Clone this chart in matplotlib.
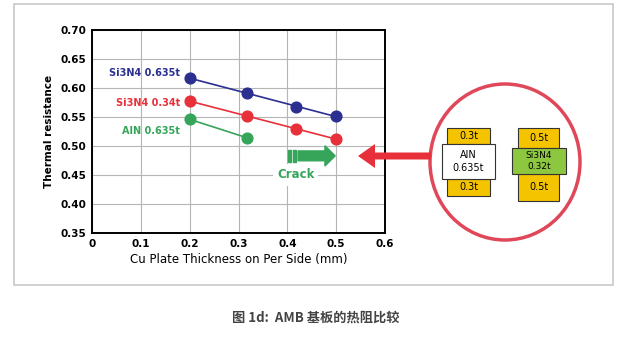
import numpy as np
import matplotlib.pyplot as plt
from matplotlib.patches import Rectangle, Ellipse, FancyArrow

plt.rcParams['font.family'] = ['DejaVu Sans', 'Noto Sans CJK SC']

# data
x_si_635 = [0.2, 0.318, 0.418, 0.5]
y_si_635 = [0.617, 0.591, 0.568, 0.551]
x_si_34 = [0.2, 0.318, 0.418, 0.5]
y_si_34 = [0.577, 0.5525, 0.529, 0.512]
x_aln = [0.2, 0.318]
y_aln = [0.546, 0.514]

labels = ['Si3N4 0.635t', 'Si3N4 0.34t', 'AlN 0.635t']
colors = ['#2b2f8f', '#e8303a', '#36a55a']
xticks = [0, 0.1, 0.2, 0.3, 0.4, 0.5, 0.6]
xtick_labels = ['0', '0.1', '0.2', '0.3', '0.4', '0.5', '0.6']
yticks = [0.35, 0.40, 0.45, 0.50, 0.55, 0.60, 0.65, 0.70]

W, H = 629, 345
fig = plt.figure(figsize=(W / 100, H / 100), dpi=100)


def px(x, y):
    return x / W, 1 - y / H


ax = fig.add_axes([92 / W, 1 - 233 / H, 293 / W, 203 / H])

series = [(x_si_635, y_si_635), (x_si_34, y_si_34), (x_aln, y_aln)]
label_pos = [0.626, 0.574, 0.526]
for (xs, ys), c, lab, ly in zip(series, colors, labels, label_pos):
    # trend line
    k, b = np.polyfit(xs, ys, 1)
    xl = np.array([xs[0], xs[-1]])
    ax.plot(xl, k * xl + b, color=c, lw=1.2, zorder=3)
    ax.scatter(xs, ys, s=60, color=c, zorder=4)
    ax.text(0.18, ly, lab, color=c, fontsize=7, fontweight='bold',
            ha='right', va='center', zorder=5)

# crack arrow
green = '#36a55a'
ax.add_patch(Rectangle((0.401, 0.4727), 0.006, 0.0207, color=green, zorder=4))
ax.add_patch(Rectangle((0.411, 0.4727), 0.006, 0.0207, color=green, zorder=4))
ax.add_patch(FancyArrow(0.422, 0.483, 0.076, 0, width=0.017, head_width=0.035,
                        head_length=0.021, length_includes_head=True,
                        color=green, zorder=4))
ax.text(0.417, 0.450, 'Crack', color=green, fontsize=8.5, fontweight='bold',
        ha='center', va='center', zorder=5,
        bbox=dict(boxstyle='square,pad=0.35', fc='white', ec='none'))

ax.set_xlim(0, 0.6)
ax.set_ylim(0.35, 0.70)
ax.set_xticks(xticks)
ax.set_xticklabels(xtick_labels)
ax.set_yticks(yticks)
ax.set_yticklabels(['%.2f' % v for v in yticks])
ax.tick_params(length=0, labelsize=7.5, pad=4)
for t in ax.get_xticklabels() + ax.get_yticklabels():
    t.set_fontweight('bold')
ax.grid(True, color='#b5b5b5', lw=0.8)
ax.set_axisbelow(True)
for s in ax.spines.values():
    s.set_linewidth(1.4)
    s.set_color('black')
ax.set_xlabel('Cu Plate Thickness on Per Side (mm)', fontsize=8.5, labelpad=3)
ax.set_ylabel('Thermal resistance', fontsize=7.5, fontweight='bold', labelpad=5)

# outer frame
fig.add_artist(Rectangle(px(14, 285), 599 / W, 281 / H, transform=fig.transFigure,
                         fill=False, ec='#c8c8c8', lw=1.2))

# red circle and arrow
fig.add_artist(Ellipse(px(505, 162), 150 / W, 156 / H, transform=fig.transFigure,
                       fill=False, ec='#e0485a', lw=2.5))
x0, y0 = px(431, 156)
x1, _ = px(358, 156)
fig.add_artist(FancyArrow(x0, y0, x1 - x0, 0, width=7 / H, head_width=24 / H,
                          head_length=17 / W, length_includes_head=True,
                          transform=fig.transFigure, color='#e8303a', lw=0))


def box(x1, y1, x2, y2, fc, text, color='black', size=7):
    fig.add_artist(Rectangle(px(x1, y2), (x2 - x1) / W, (y2 - y1) / H,
                             transform=fig.transFigure, fc=fc, ec='#333333', lw=0.8))
    cx, cy = px((x1 + x2) / 2, (y1 + y2) / 2)
    fig.text(cx, cy, text, ha='center', va='center', fontsize=size, color=color,
             linespacing=1.3)


yellow = '#f5c400'
box(447, 128, 490, 144, yellow, '0.3t')
box(447, 179, 490, 196, yellow, '0.3t')
box(442, 144, 495, 179, 'white', 'AlN\n0.635t')
box(518, 128, 559, 148, yellow, '0.5t')
box(518, 174, 559, 201, yellow, '0.5t')
box(512, 148, 566, 174, '#8dc63f', 'Si3N4\n0.32t', size=6.5)

cx, cy = px(316, 318)
fig.text(cx, cy, '图 1d:  AMB 基板的热阻比较', ha='center', va='center',
         fontsize=9.5, style='italic', fontweight='bold', color='#444444',
         family=['Noto Sans CJK SC', 'DejaVu Sans'])

fig.savefig('out.png', dpi=100)
